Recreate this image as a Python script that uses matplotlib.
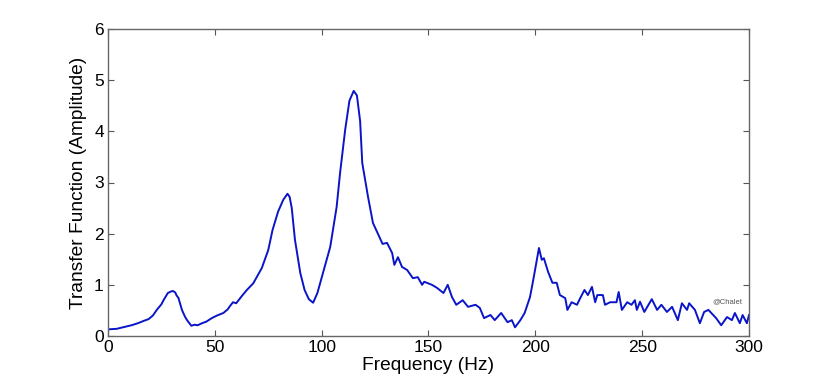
import matplotlib
matplotlib.use("Agg")
import matplotlib.pyplot as plt

freq_hz = [0, 4, 8, 11, 14, 17, 19, 21, 23, 25, 26, 28, 29.5, 30.4, 31.5, 32, 33, 34.6, 36, 37,
           39, 40.5, 42, 44, 46, 48.6, 51, 54, 56, 57, 58.5, 60, 63, 65, 68, 70, 72, 75, 77,
           79.6, 82, 84, 85, 86, 87.5, 90, 92, 94, 96, 98, 100.6, 104, 107, 108.6, 111, 113,
           115, 116.5, 118, 119, 121.7, 124, 127, 128.5, 130.6, 133, 134, 135.7, 137.6, 140,
           142.7, 145, 147, 148, 151.6, 154, 157, 159, 161, 163, 166, 168.5, 172, 174, 176,
           179, 181, 184, 187, 189, 190.5, 193, 195, 197.5, 199, 200.7, 201.7, 203, 204, 206,
           208, 210, 211.5, 214, 215, 217, 219.5, 221, 223, 224.6, 226.5, 228, 229, 231.6,
           232.6, 235, 238, 239, 240.5, 243, 245, 246.6, 247.5, 249, 251, 254.5, 257, 259,
           261.6, 264, 266.7, 268.6, 271, 272, 274.7, 277, 279, 281, 284.6, 287, 289.7, 292,
           293.4, 295.7, 297, 299, 300]
amplitude = [0.13, 0.14, 0.18, 0.21, 0.25, 0.30, 0.33, 0.40, 0.52, 0.62, 0.70, 0.84, 0.87, 0.88, 0.85, 0.80, 0.74, 0.51, 0.38, 0.31,
             0.20, 0.22, 0.21, 0.25, 0.28, 0.35, 0.40, 0.45, 0.52, 0.58, 0.66, 0.64, 0.80, 0.90, 1.03, 1.18, 1.33, 1.68, 2.07,
             2.43, 2.66, 2.78, 2.72, 2.50, 1.88, 1.23, 0.90, 0.72, 0.65, 0.84, 1.23, 1.74, 2.52, 3.18, 4.03, 4.60,
             4.79, 4.70, 4.20, 3.38, 2.72, 2.21, 1.94, 1.80, 1.82, 1.62, 1.39, 1.54, 1.35, 1.29,
             1.13, 1.15, 1.00, 1.06, 1.00, 0.94, 0.84, 1.00, 0.76, 0.61, 0.70, 0.57, 0.61, 0.55, 0.35,
             0.41, 0.31, 0.45, 0.27, 0.31, 0.17, 0.31, 0.45, 0.76, 1.09, 1.49, 1.72, 1.49, 1.52, 1.25,
             1.04, 1.04, 0.80, 0.74, 0.51, 0.66, 0.61, 0.74, 0.90, 0.80, 0.96, 0.66, 0.80, 0.80,
             0.61, 0.66, 0.66, 0.86, 0.51, 0.66, 0.61, 0.70, 0.51, 0.67, 0.47, 0.72, 0.51, 0.61,
             0.47, 0.57, 0.31, 0.64, 0.51, 0.64, 0.51, 0.25, 0.47, 0.51, 0.35, 0.21, 0.37, 0.31,
             0.45, 0.25, 0.41, 0.25, 0.41]

x_ticks = [0, 50, 100, 150, 200, 250, 300]
y_ticks = [0, 1, 2, 3, 4, 5, 6]

plt.rcParams['font.family'] = ['Liberation Sans', 'DejaVu Sans']

fig = plt.figure(figsize=(8.28, 3.81), dpi=100)
ax = fig.add_axes([108/828, 1 - 336/381, (749-108)/828, (336-29)/381])
ax.plot(freq_hz, amplitude, color='#0a14c8', linewidth=1.4)
ax.set_xlim(0, 300)
ax.set_ylim(0, 6)
ax.set_xticks(x_ticks)
ax.set_yticks(y_ticks)
ax.tick_params(direction='in', length=4, top=True, right=True, labelsize=12.5,
               color='#555555', width=0.8, pad=3)
for s in ax.spines.values():
    s.set_color('#666666')
    s.set_linewidth(1.0)
ax.set_xlabel('Frequency (Hz)', fontsize=13.8, labelpad=1)
ax.set_ylabel('Transfer Function (Amplitude)', fontsize=13.8, labelpad=5)
ax.text(290, 0.66, '@Chalet', fontsize=5.5, color='#555555', ha='center', va='center')

fig.savefig('out.png', dpi=100)
